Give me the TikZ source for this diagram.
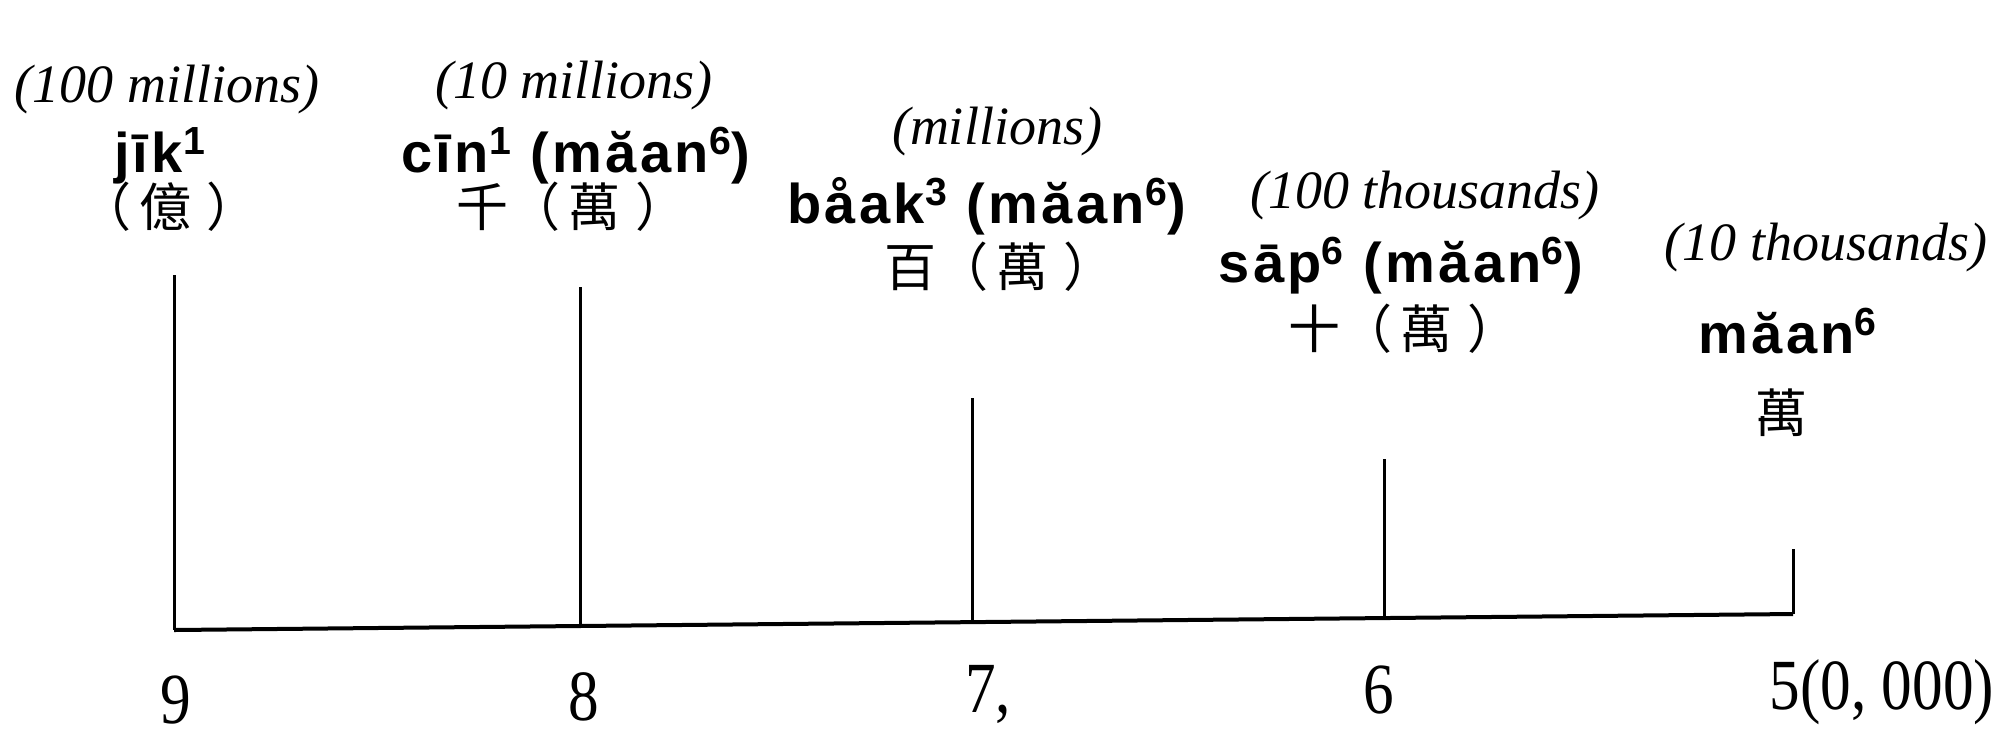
\documentclass[tikz,border=0pt]{standalone}
\usepackage{fontspec}
\setmainfont{Liberation Serif}
\newfontfamily\romafont[LetterSpace=6]{Liberation Sans}
\newfontfamily\hanzi{Noto Sans CJK TC}
\newfontfamily\sofont[FakeStretch=0.85]{Liberation Serif}
\newcommand\kh[1]{（\hspace{.15em}#1\hspace{.3em}）}
\begin{document}
\begin{tikzpicture}[x=0.5pt, y=-0.5pt,
    nghia/.style={font=\fontsize{27pt}{30pt}\selectfont\itshape},
    doc/.style={font=\fontsize{28pt}{32pt}\selectfont\romafont\bfseries, inner sep=1pt},
    han/.style={font=\fontsize{26pt}{30pt}\selectfont\hanzi, inner sep=1pt},
    so/.style={font=\fontsize{36pt}{40pt}\selectfont\sofont, inner sep=1pt},
    vach/.style={line width=1.5pt}]
    \useasboundingbox (0,0) rectangle (2011,736);

    % Nghĩa tiếng Anh
    \node[nghia] (n9) at (167, 90) {(100 millions)};
    \node[nghia] (n8) at (574, 86) {(10 millions)};
    \node[nghia] (n7) at (997, 132) {(millions)};
    \node[nghia] (n6) at (1425, 196) {(100 thousands)};
    \node[nghia] (n5) at (1826, 248) {(10 thousands)};

    % Cách đọc
    \node[doc] (r9) at (160, 156) {jīk\textsuperscript{1}};
    \node[doc] (r8) at (576, 156) {cīn\textsuperscript{1} (măan\textsuperscript{6})};
    \node[doc] (r7) at (987, 206) {båak\textsuperscript{3} (măan\textsuperscript{6})};
    \node[doc] (r6) at (1401, 266) {sāp\textsuperscript{6} (măan\textsuperscript{6})};
    \node[doc] (r5) at (1788, 331) {măan\textsuperscript{6}};

    % Chữ Hán
    \node[han] (h9) at (169, 207) {\kh{億}};
    \node[han] (h8) at (572, 207) {千\kh{萬}};
    \node[han] (h7) at (1000, 267) {百\kh{萬}};
    \node[han] (h6) at (1404, 329) {十\kh{萬}};
    \node[han] (h5) at (1781, 413) {萬};

    % Trục và vạch
    \coordinate (g9) at (174, 630);
    \coordinate (g8) at (580, 626);
    \coordinate (g7) at (972, 622);
    \coordinate (g6) at (1384, 618);
    \coordinate (g5) at (1793, 614);
    \coordinate (t9) at (174, 275);
    \coordinate (t8) at (580, 287);
    \coordinate (t7) at (972, 398);
    \coordinate (t6) at (1384, 459);
    \coordinate (t5) at (1793, 549);
    \draw[line width=2pt] (g9) -- (g5);
    \foreach \i in {9,8,7,6,5}
        \draw[vach] (t\i) -- (g\i);

    % Số
    \node[so] (s9) at (176, 700) {9};
    \node[so] (s8) at (584, 697) {8};
    \node[so] (s7) at (988, 694) {7,};
    \node[so] (s6) at (1379, 690) {6};
    \node[so] (s5) at (1882, 692) {5(0, 000)};
\end{tikzpicture}
\end{document}
